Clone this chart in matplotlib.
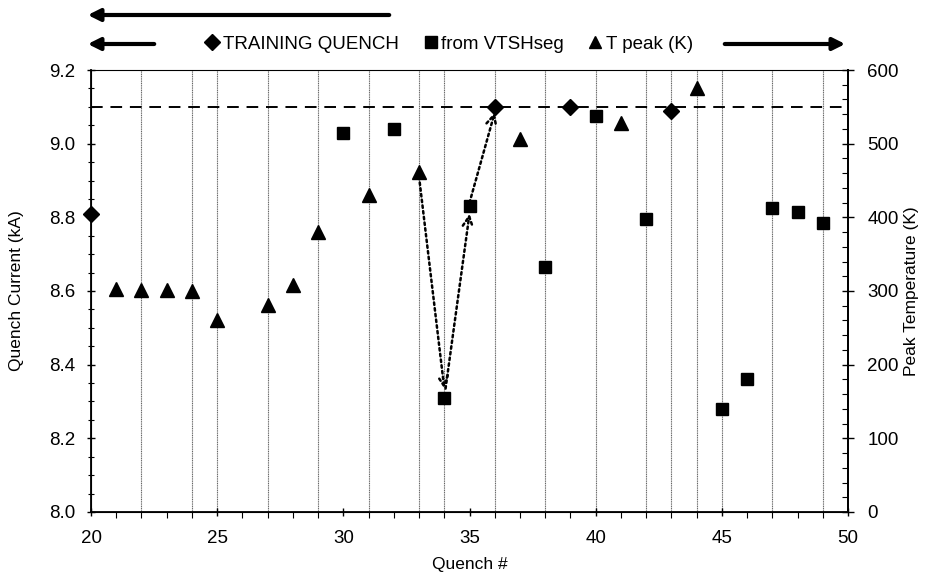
import matplotlib
matplotlib.use("Agg")
import matplotlib.pyplot as plt
from matplotlib.lines import Line2D
from matplotlib.ticker import MultipleLocator

plt.rcParams['font.family'] = ['Liberation Sans', 'DejaVu Sans']

# Data
train_x = [20, 36, 39, 43]
train_i = [8.81, 9.10, 9.10, 9.09]
vts_x = [30, 32, 34, 35, 38, 40, 42, 45, 46, 47, 48, 49]
vts_i = [9.03, 9.04, 8.31, 8.83, 8.665, 9.075, 8.795, 8.28, 8.36, 8.825, 8.815, 8.785]
tpk_x = [21, 22, 23, 24, 25, 27, 28, 29, 31, 33, 37, 41, 44]
tpk_k = [303, 302, 302, 300, 260, 281, 308, 380, 430, 462, 506, 528, 575]
grid_x = [22, 24, 25, 27, 29, 31, 33, 34, 36, 38, 40, 42, 43, 44, 45, 47, 49]
limit_i = 9.10
arrow_segments = [((33, 8.91), (34, 8.335)), ((34.05, 8.335), (35, 8.81)), ((35, 8.84), (36, 9.085))]

fig = plt.figure(figsize=(9.25, 5.73), dpi=100)
ax = fig.add_axes([0.0984, 0.1065, 0.8184, 0.7713])
ax2 = ax.twinx()

ax.set_xlim(20, 50)
ax.set_ylim(8.0, 9.2)
ax2.set_ylim(0, 600)

for gx in grid_x:
    ax.axvline(gx, color='#666666', lw=0.8, ls=(0, (1, 0.6)), zorder=1)

ax.axhline(limit_i, color='black', lw=1.4, ls=(0, (6, 4)), zorder=2)

ax.plot(train_x, train_i, 'D', color='black', ms=8.5, zorder=5, clip_on=False)
ax.plot(vts_x, vts_i, 's', color='black', ms=8.5, zorder=5)
ax2.plot(tpk_x, tpk_k, '^', color='black', ms=9.5, zorder=5)

for (x0, y0), (x1, y1) in arrow_segments:
    ax.annotate('', xy=(x1, y1), xytext=(x0, y0),
                arrowprops=dict(arrowstyle='->', color='black', lw=1.8,
                                ls=(0, (1, 1.3)), mutation_scale=18, shrinkA=0, shrinkB=0),
                zorder=6)

ax.xaxis.set_major_locator(MultipleLocator(5))
ax.xaxis.set_minor_locator(MultipleLocator(1))
ax.yaxis.set_minor_locator(MultipleLocator(0.05))
ax2.yaxis.set_major_locator(MultipleLocator(100))
ax2.yaxis.set_minor_locator(MultipleLocator(20))

ax.set_yticks([8.0, 8.2, 8.4, 8.6, 8.8, 9.0, 9.2])
ax.set_yticklabels(['8.0', '8.2', '8.4', '8.6', '8.8', '9.0', '9.2'])

ax.tick_params(axis='both', which='major', labelsize=13.5, length=6, width=1, direction='inout')
ax.tick_params(axis='x', which='major', pad=10)
ax.tick_params(axis='y', which='major', pad=8)
ax.tick_params(axis='both', which='minor', length=4, width=0.8, direction='out')
ax.tick_params(axis='y', which='minor', direction='inout')
ax2.tick_params(axis='y', which='major', labelsize=13.5, length=8, width=1, direction='inout', pad=10)
ax2.tick_params(axis='y', which='minor', length=4, width=0.8, direction='in')

for s in ['left', 'bottom', 'right']:
    ax.spines[s].set_linewidth(1.3)
ax2.spines['right'].set_linewidth(1.3)
ax.spines['top'].set_linewidth(0.6)
ax.spines['top'].set_color('#444444')

ax.set_xlabel('Quench #', fontsize=12.5, va='center')
ax.xaxis.set_label_coords(0.5, -0.118)
ax.set_ylabel('Quench Current (kA)', fontsize=12.5, va='center')
ax.yaxis.set_label_coords(-0.098, 0.5)
ax2.set_ylabel('Peak Temperature (K)', fontsize=12.5, va='center')
ax2.yaxis.set_label_coords(1.084, 0.5)

handles = [Line2D([], [], marker='D', color='black', ls='none', ms=8),
           Line2D([], [], marker='s', color='black', ls='none', ms=8),
           Line2D([], [], marker='^', color='black', ls='none', ms=9)]
labels = ['TRAINING QUENCH', 'from VTSHseg', 'T peak (K)']
fig.legend(handles, labels, loc='center', bbox_to_anchor=(448 / 925, 1 - 44 / 573),
           ncol=3, frameon=False, fontsize=13.5, handletextpad=0.05, columnspacing=1.2,
           handlelength=1.0, borderpad=0)

def fig_arrow(x0, x1, y):
    fig.patches.append(matplotlib.patches.FancyArrowPatch(
        (x0 / 925, 1 - y / 573), (x1 / 925, 1 - y / 573), transform=fig.transFigure,
        arrowstyle='-|>', mutation_scale=18, lw=3, color='black'))

fig_arrow(392, 85, 15)
fig_arrow(157, 85, 44)
fig_arrow(722, 848, 44)

fig.savefig('out.png', dpi=100)
